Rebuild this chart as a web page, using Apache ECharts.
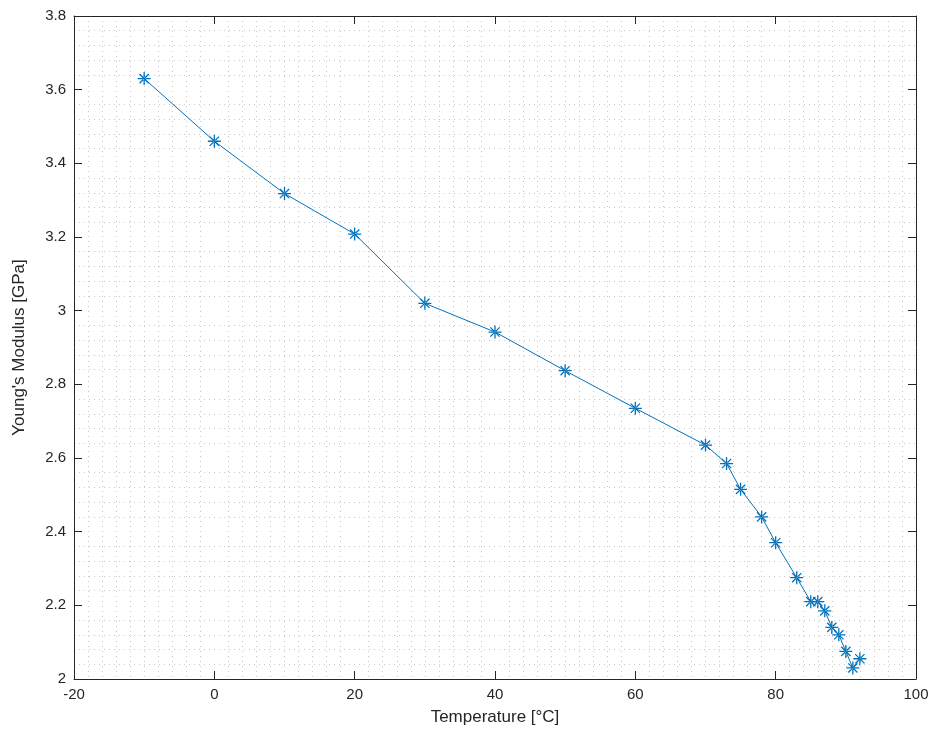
<!DOCTYPE html>
<html>
<head>
<meta charset="UTF-8">
<style>html,body{margin:0;background:#fff}#main{width:933px;height:740px}</style>
</head>
<body>
<div id="main"></div>
<script src="https://cdn.jsdelivr.net/npm/echarts@6/dist/echarts.min.js"></script>
<script>
var temperature = [-10, 0, 10, 20, 30, 40, 50, 60, 70, 73, 75, 78, 80, 83, 85, 86, 87, 88, 89, 90, 91, 92];
var modulus = [3.63, 3.46, 3.318, 3.208, 3.02, 2.942, 2.837, 2.735, 2.635, 2.585, 2.515, 2.44, 2.37, 2.275, 2.21, 2.21, 2.185, 2.14, 2.12, 2.075, 2.03, 2.055];

var star = 'path://M9,0h2v20h-2z M0,9h20v2h-20z M2.2,3.6l1.4,-1.4l14.2,14.2l-1.4,1.4z M17.8,3.6l-1.4,-1.4l-14.2,14.2l1.4,1.4z';
var myChart = echarts.init(document.getElementById('main'));
var axisFont = {color: '#262626', fontSize: 15, fontFamily: 'Helvetica, Arial, Liberation Sans, sans-serif'};
var minorLine = {show: true, lineStyle: {color: '#c8c8c8', type: [1, 4], width: 1}};
function xa(pos, labels) {
  return {type: 'value', position: pos, min: -20, max: 100, interval: 20,
    name: labels ? 'Temperature [°C]' : '', nameLocation: 'middle', nameGap: 30,
    nameTextStyle: {color: '#262626', fontSize: 17},
    axisLine: {show: true, onZero: false, lineStyle: {color: '#262626'}},
    axisTick: {show: true, inside: true, length: 8, lineStyle: {color: '#262626'}},
    axisLabel: labels ? axisFont : {show: false},
    splitLine: {show: false},
    minorTick: {show: false, splitNumber: 10},
    minorSplitLine: labels ? minorLine : {show: false}};
}
function ya(pos, labels) {
  return {type: 'value', position: pos, min: 2, max: 3.8, interval: 0.2,
    name: labels ? "Young's Modulus [GPa]" : '', nameLocation: 'middle', nameGap: 46,
    nameTextStyle: {color: '#262626', fontSize: 17},
    axisLine: {show: true, onZero: false, lineStyle: {color: '#262626'}},
    axisTick: {show: true, inside: true, length: 8, lineStyle: {color: '#262626'}},
    axisLabel: labels ? Object.assign({formatter: function (v) { return +v.toFixed(1); }}, axisFont) : {show: false},
    splitLine: {show: false},
    minorTick: {show: false, splitNumber: 5},
    minorSplitLine: labels ? minorLine : {show: false}};
}
var option = {
  animation: false,
  grid: {left: 74, right: 17, top: 16, bottom: 61},
  xAxis: [xa('bottom', true), xa('top', false)],
  yAxis: [ya('left', true), ya('right', false)],
  series: [{
    type: 'line',
    data: temperature.map(function (t, i) { return [t, modulus[i]]; }),
    lineStyle: {color: '#0072BD', width: 1},
    itemStyle: {color: '#0072BD'},
    symbol: star,
    symbolSize: 13,
    showAllSymbol: true
  }]
};
myChart.setOption(option);
</script>
</body>
</html>
